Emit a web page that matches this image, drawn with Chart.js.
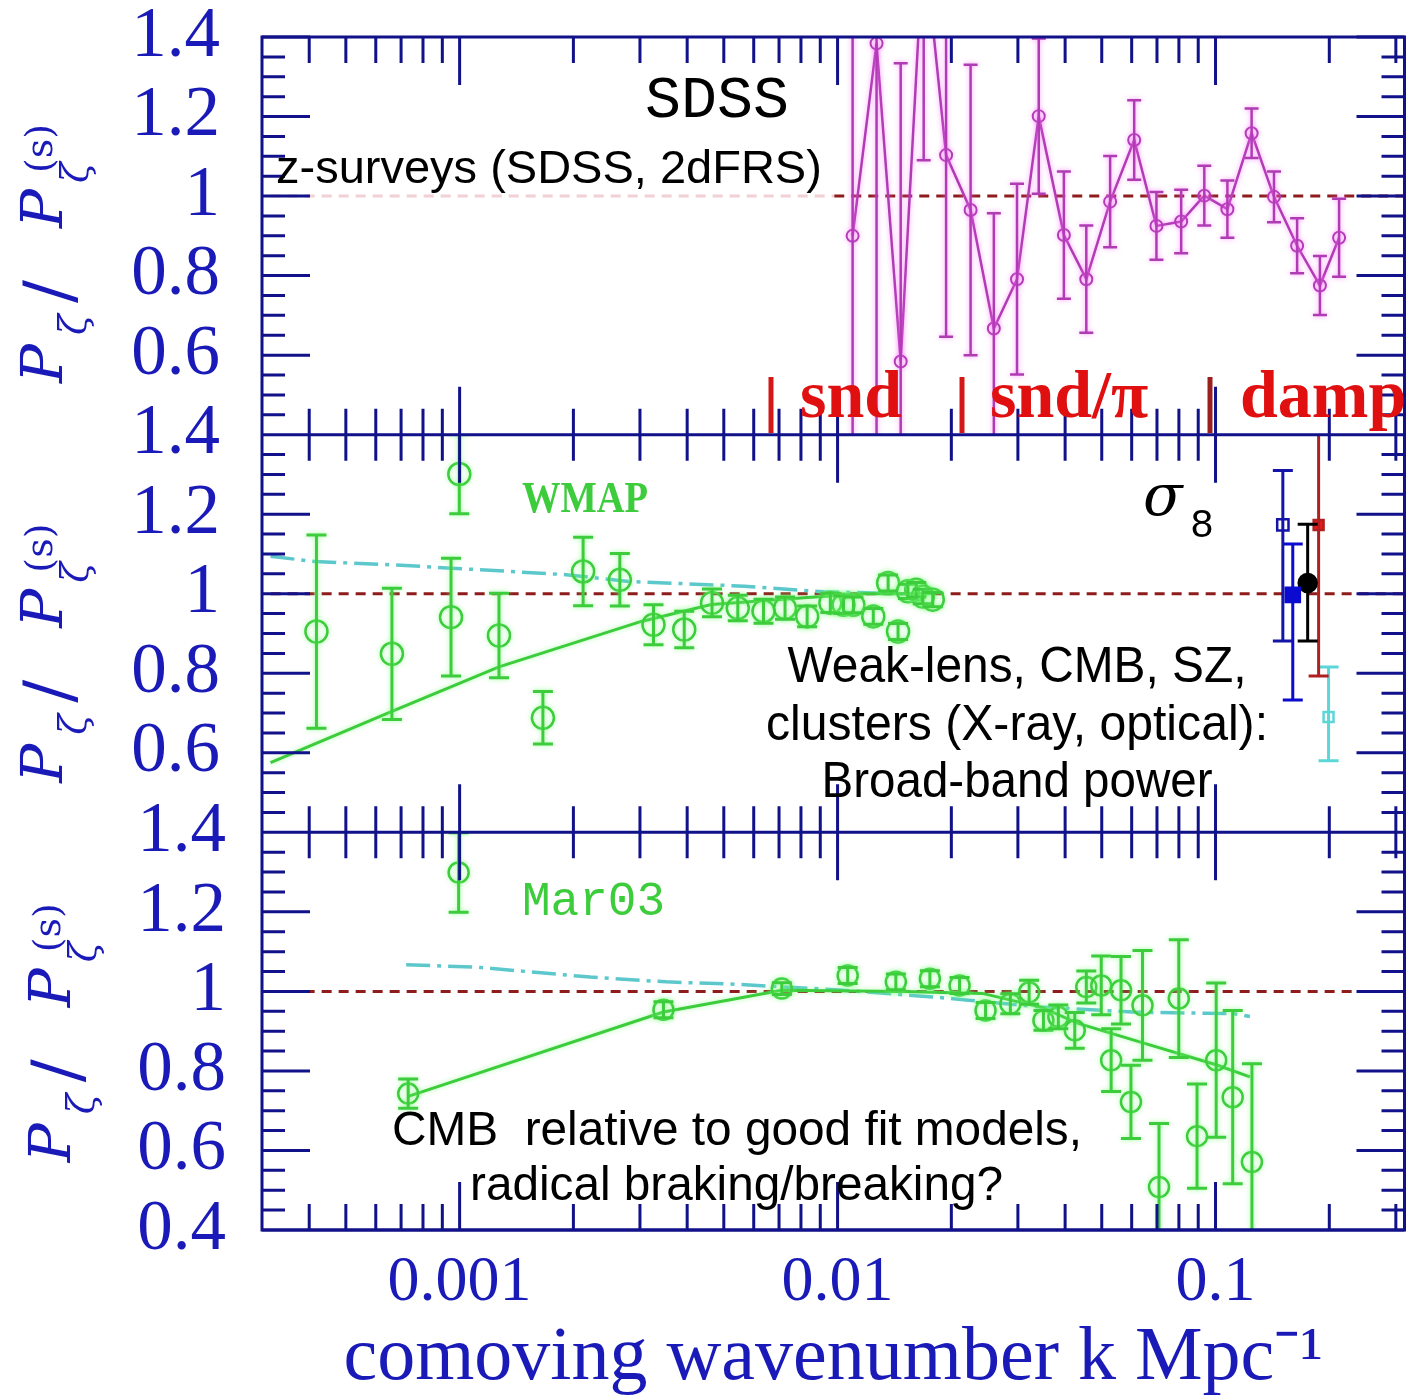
<!DOCTYPE html>
<html>
<head>
<meta charset="utf-8">
<script src="https://cdn.jsdelivr.net/npm/chart.js@4.4.1/dist/chart.umd.min.js"></script>
<style>
  html, body { margin: 0; padding: 0; background: #fff; }
  #wrap { width: 1418px; height: 1396px; position: relative; }
</style>
</head>
<body>
<div id="wrap"><canvas id="myChart"></canvas></div>
<script>
// axis range and ticks
const xMin = 0.00031623, xMax = 0.31623
const xTickVals = [0.001, 0.01, 0.1]
const xTickLabels = ['0.001', '0.01', '0.1']
const yTickVals = [0.4, 0.6, 0.8, 1, 1.2, 1.4]
const yTickLabels = ['0.4', '0.6', '0.8', '1', '1.2', '1.4']

// reference line P/P(s) = 1
const refK = [xMin, xMax]
const refV = [1, 1]
const refFaintK = [xMin, 0.0098]
const refDarkK = [0.0098, xMax]

// top panel: SDSS
const sdssK = [0.01096, 0.01268, 0.01469, 0.0169, 0.01937, 0.02249, 0.02591, 0.02984, 0.03406, 0.0397, 0.04551,
  0.05262, 0.06093, 0.06977, 0.08112, 0.09339, 0.1075, 0.1246, 0.1428, 0.1644, 0.1889, 0.2123]
const sdssV = [0.90, 1.384, 0.584, 1.65, 1.103, 0.965, 0.667, 0.791, 1.201, 0.902, 0.791,
  0.986, 1.141, 0.925, 0.936, 1.001, 0.967, 1.158, 0.998, 0.875, 0.775, 0.895]
const sdssErr = [1.0, 1.0, 0.75, 0.56, 0.457, 0.365, 0.29, 0.24, 0.195, 0.16, 0.135,
  0.115, 0.1, 0.085, 0.08, 0.075, 0.072, 0.062, 0.064, 0.069, 0.074, 0.098]

// middle panel: WMAP
const wmapK = [0.000418, 0.000662, 0.000949, 0.000998, 0.001271, 0.001661, 0.002122, 0.002654, 0.003258, 0.003929,
  0.004654, 0.005445, 0.006369, 0.007261, 0.008308, 0.00957, 0.010368, 0.011014, 0.01243, 0.013606,
  0.014454, 0.015352, 0.016144, 0.016808, 0.017858]
const wmapV = [0.905, 0.849, 0.941, 1.301, 0.895, 0.688, 1.056, 1.035, 0.922, 0.910,
  0.977, 0.964, 0.956, 0.964, 0.943, 0.977, 0.972, 0.972, 0.943, 1.027,
  0.905, 1.006, 1.010, 0.993, 0.985]
const wmapErr = [0.243, 0.165, 0.148, 0.1, 0.106, 0.066, 0.086, 0.066, 0.05, 0.046,
  0.035, 0.032, 0.03, 0.028, 0.026, 0.024, 0.022, 0.02, 0.02, 0.02,
  0.02, 0.018, 0.018, 0.018, 0.018]
const wmapModelK = [0.000316, 0.000662, 0.001271, 0.00304, 0.004636, 0.008146, 0.0117, 0.017858]
const wmapModelV = [0.575, 0.704, 0.816, 0.931, 0.973, 0.99, 1.0, 1.0]
const wmapFitK = [0.000316, 0.000414, 0.000658, 0.000926, 0.001912, 0.002803, 0.005671, 0.009191, 0.014896]
const wmapFitV = [1.094, 1.081, 1.073, 1.065, 1.048, 1.031, 1.019, 1.005, 1.0]

// middle panel: sigma8 broad-band points
const s8Names = ['weak lens', 'CMB', 'mean', 'SZ', 'clusters']
const s8K = [0.1507, 0.1601, 0.1753, 0.1874, 0.1991]
const s8V = [1.173, 0.997, 1.027, 1.173, 0.690]
const s8Up = [0.137, 0.128, 0.148, 0.25, 0.126]
const s8Down = [0.292, 0.264, 0.146, 0.38, 0.11]

// bottom panel: Mar03
const marK = [0.000731, 0.000994, 0.003462, 0.007119, 0.010636, 0.014263, 0.017549, 0.021027, 0.024635, 0.028651,
  0.032124, 0.035051, 0.038371, 0.042422, 0.04551, 0.049848, 0.052946, 0.056234, 0.05974, 0.06409,
  0.07087, 0.07995, 0.08935, 0.10041, 0.11103, 0.12483]
const marV = [0.743, 1.299, 0.954, 1.007, 1.040, 1.024, 1.032, 1.015, 0.952, 0.969,
  0.998, 0.927, 0.936, 0.902, 1.011, 1.015, 0.827, 1.003, 0.722, 0.965,
  0.508, 0.982, 0.636, 0.827, 0.734, 0.571]
const marErr = [0.037, 0.1, 0.02, 0.015, 0.02, 0.02, 0.02, 0.02, 0.02, 0.025,
  0.03, 0.025, 0.03, 0.045, 0.04, 0.074, 0.079, 0.085, 0.092, 0.138,
  0.16, 0.148, 0.131, 0.194, 0.218, 0.247]
const marModelK = [0.000731, 0.003462, 0.007119, 0.014896, 0.024147, 0.03469, 0.043111, 0.064598, 0.10083, 0.12331]
const marModelV = [0.736, 0.948, 1.003, 1.0, 0.995, 0.96, 0.92, 0.87, 0.815, 0.785]
const marFitK = [0.000722, 0.001108, 0.002215, 0.003518, 0.005339, 0.010368, 0.017858, 0.022193, 0.034065, 0.060326, 0.11194, 0.12331]
const marFitV = [1.067, 1.061, 1.036, 1.024, 1.018, 1.003, 0.986, 0.978, 0.961, 0.948, 0.944, 0.937]

// colours
const navy = '#11118a'
const tickBlue = '#1a1ab8'
const green = '#3ccc3c'
const magenta = '#b03cb4'
const cyan = '#5cc8cc'
const darkRed = '#8e1c1c'

function pts(ks, vs) {
  return ks.map((k, i) => ({x: k, y: vs[i]}))
}

function refLine(ks, axis, color) {
  return {data: pts(ks, refV), yAxisID: axis, borderColor: color, borderWidth: 3, borderDash: [10, 7],
    pointRadius: 0, order: 10}
}

const datasets = [
  refLine(refFaintK, 'y1', 'rgba(230,170,180,0.55)'),
  refLine(refDarkK, 'y1', darkRed),
  refLine(refK, 'y2', darkRed),
  refLine(refK, 'y3', darkRed),
  {label: 'SDSS', data: pts(sdssK, sdssV), yAxisID: 'y1', borderColor: magenta, borderWidth: 2.5,
    pointRadius: 6, pointBorderWidth: 2, pointBorderColor: magenta, pointBackgroundColor: 'rgba(0,0,0,0)',
    errUp: sdssErr, errDown: sdssErr, capW: 7, errWidth: 2.5, glow: 'rgba(255,110,255,0.7)', order: 2},
  {label: 'WMAP model', data: pts(wmapModelK, wmapModelV), yAxisID: 'y2', borderColor: green, borderWidth: 3,
    pointRadius: 0, order: 5, glow: 'rgba(120,255,120,0.6)'},
  {label: 'WMAP fit', data: pts(wmapFitK, wmapFitV), yAxisID: 'y2', borderColor: cyan, borderWidth: 3.5,
    borderDash: [24, 7, 4, 7], pointRadius: 0, order: 6},
  {label: 'WMAP', data: pts(wmapK, wmapV), yAxisID: 'y2', showLine: false, pointRadius: 11, pointBorderWidth: 2.5,
    pointBorderColor: green, pointBackgroundColor: 'rgba(0,0,0,0)', errUp: wmapErr, errDown: wmapErr,
    errColor: green, capW: 10, errWidth: 3, glow: 'rgba(120,255,120,0.7)', order: 1},
  {label: 'Mar03 model', data: pts(marModelK, marModelV), yAxisID: 'y3', borderColor: green, borderWidth: 3,
    pointRadius: 0, order: 5, glow: 'rgba(120,255,120,0.6)'},
  {label: 'Mar03 fit', data: pts(marFitK, marFitV), yAxisID: 'y3', borderColor: cyan, borderWidth: 3.5,
    borderDash: [24, 7, 4, 7], pointRadius: 0, order: 6},
  {label: 'Mar03', data: pts(marK, marV), yAxisID: 'y3', showLine: false, pointRadius: 10, pointBorderWidth: 2.5,
    pointBorderColor: green, pointBackgroundColor: 'rgba(0,0,0,0)', errUp: marErr, errDown: marErr,
    errColor: green, capW: 10, errWidth: 3, glow: 'rgba(120,255,120,0.7)', order: 1}
]

// sigma8 points, one dataset each
const s8Style = [
  {c: '#1414a8', style: 'rect', r: 8, fill: 'rgba(0,0,0,0)'},
  {c: '#0a0ad0', style: 'rect', r: 10, fill: '#0a0ad0'},
  {c: '#000000', style: 'circle', r: 9, fill: '#000000'},
  {c: '#b02020', style: 'rect', r: 7, fill: '#ee1818'},
  {c: '#5cd6d6', style: 'rect', r: 7, fill: 'rgba(0,0,0,0)'}
]
s8Names.forEach((name, i) => {
  const st = s8Style[i]
  datasets.push({label: name, data: [{x: s8K[i], y: s8V[i]}], yAxisID: 'y2', showLine: false,
    pointStyle: st.style, pointRadius: st.r, pointBorderWidth: 2.5, pointBorderColor: st.c,
    pointBackgroundColor: st.fill, errUp: [s8Up[i]], errDown: [s8Down[i]], errColor: st.c,
    capW: 10, errWidth: 3, order: 1})
})

// clip each dataset to its own panel and add error bars
const panelClip = {
  id: 'panelClip',
  beforeDatasetDraw(chart, args) {
    const ds = chart.data.datasets[args.index]
    const ys = chart.scales[ds.yAxisID]
    const a = chart.chartArea
    const ctx = chart.ctx
    ctx.save()
    ctx.beginPath()
    ctx.rect(a.left, ys.top, a.right - a.left, ys.bottom - ys.top)
    ctx.clip()
    if (ds.glow) {
      ctx.shadowColor = ds.glow
      ctx.shadowBlur = 5
    }
  },
  afterDatasetDraw(chart, args) {
    const ds = chart.data.datasets[args.index]
    const ctx = chart.ctx
    if (ds.errUp) {
      const xs = chart.scales.x, ys = chart.scales[ds.yAxisID]
      ctx.strokeStyle = ds.errColor || ds.borderColor
      ctx.lineWidth = ds.errWidth
      ctx.setLineDash([])
      ds.data.forEach((p, i) => {
        const x = xs.getPixelForValue(p.x)
        const yt = ys.getPixelForValue(p.y + ds.errUp[i])
        const yb = ys.getPixelForValue(p.y - ds.errDown[i])
        ctx.beginPath()
        ctx.moveTo(x, yt); ctx.lineTo(x, yb)
        ctx.moveTo(x - ds.capW, yt); ctx.lineTo(x + ds.capW, yt)
        ctx.moveTo(x - ds.capW, yb); ctx.lineTo(x + ds.capW, yb)
        ctx.stroke()
      })
    }
    ctx.restore()
  }
}

// frame with inward ticks on every panel
const frame = {
  id: 'frame',
  afterDatasetsDraw(chart) {
    const {ctx, chartArea: a, scales} = chart
    const xs = scales.x
    ctx.save()
    ctx.strokeStyle = navy
    ctx.lineWidth = 3
    ctx.setLineDash([])
    ctx.strokeRect(a.left, a.top, a.right - a.left, a.bottom - a.top)
    ctx.beginPath()
    ;['y1', 'y2', 'y3'].forEach(id => {
      const s = scales[id]
      ctx.moveTo(a.left, s.bottom); ctx.lineTo(a.right, s.bottom)
      for (let i = 0; i <= 20; i++) {
        const y = s.getPixelForValue(0.4 + i * 0.05)
        const len = i % 4 === 0 ? 48 : 23
        ctx.moveTo(a.left, y); ctx.lineTo(a.left + len, y)
        ctx.moveTo(a.right, y); ctx.lineTo(a.right - len, y)
      }
      for (let d = -4; d <= -1; d++) {
        for (let m = 1; m <= 9; m++) {
          const k = m * Math.pow(10, d)
          if (k < xMin || k > xMax) continue
          const x = xs.getPixelForValue(k)
          const len = m === 1 ? 48 : 26
          ctx.moveTo(x, s.top); ctx.lineTo(x, s.top + len)
          ctx.moveTo(x, s.bottom); ctx.lineTo(x, s.bottom - len)
        }
      }
    })
    ctx.stroke()
    ctx.restore()
  }
}

function yTitle(ctx, xb, y0) {
  ctx.save()
  ctx.translate(xb, y0)
  ctx.rotate(-Math.PI / 2)
  ctx.fillStyle = tickBlue
  ctx.textBaseline = 'alphabetic'
  ctx.font = 'italic 58px "DejaVu Serif"'
  ctx.fillText('P', 0, 0)
  ctx.font = 'italic 38px "DejaVu Serif"'
  ctx.fillText('ζ', 48, 24)
  ctx.font = '68px "DejaVu Serif"'
  ctx.fillText('/', 80, 10)
  ctx.font = 'italic 58px "DejaVu Serif"'
  ctx.fillText('P', 155, 0)
  ctx.font = 'italic 38px "DejaVu Serif"'
  ctx.fillText('ζ', 200, 26)
  ctx.font = '38px "DejaVu Serif"'
  ctx.fillText('(s)', 210, -10)
  ctx.restore()
}

function txt(ctx, s, x, y, font, color, w) {
  ctx.font = font
  ctx.fillStyle = color
  ctx.fillText(s, x, y, w)
}

// labels and annotations
const notes = {
  id: 'notes',
  afterDraw(chart) {
    const ctx = chart.ctx
    const s = chart.scales
    ctx.save()
    ctx.textBaseline = 'alphabetic'
    ctx.textAlign = 'left'
    yTitle(ctx, 62, s.y1.top + 346)
    yTitle(ctx, 62, s.y2.top + 348)
    yTitle(ctx, 70, s.y3.top + 330)

    const sans = '"Liberation Sans", Arial, sans-serif'
    txt(ctx, 'SDSS', 645, 117, '60px "Liberation Mono"', '#000', 150)
    txt(ctx, 'z-surveys (SDSS, 2dFRS)', 276, 183, '47px ' + sans, '#000', 554)

    // sound horizon / damping marks
    ctx.lineWidth = 5
    ;[[771, '#d41818'], [962, '#d41818'], [1210, '#9a2020']].forEach(b => {
      ctx.strokeStyle = b[1]
      ctx.beginPath(); ctx.moveTo(b[0], 377); ctx.lineTo(b[0], 433); ctx.stroke()
    })
    const red = 'bold 68px "Liberation Serif"'
    txt(ctx, 'snd', 800, 417, red, '#e01010', 112)
    txt(ctx, 'snd/π', 990, 417, red, '#e01010', 192)
    txt(ctx, 'damp', 1240, 417, red, '#e01010', 175)

    txt(ctx, 'WMAP', 522, 512, 'bold 44px "Liberation Serif"', green, 126)
    txt(ctx, 'σ', 1143, 515, 'italic 58px "DejaVu Serif"', '#000')
    txt(ctx, '8', 1190, 537, '40px "Liberation Mono"', '#000')

    ctx.textAlign = 'center'
    txt(ctx, 'Weak-lens, CMB, SZ,', 1017, 682, '50px ' + sans, '#000', 459)
    txt(ctx, 'clusters (X-ray, optical):', 1017, 740, '50px ' + sans, '#000', 502)
    txt(ctx, 'Broad-band power', 1017, 797, '50px ' + sans, '#000', 391)

    ctx.textAlign = 'left'
    txt(ctx, 'Mar03', 522, 915, '48px "Liberation Mono"', green, 143)
    txt(ctx, 'CMB  relative to good fit models,', 392, 1145, '48px ' + sans, '#000', 690)
    txt(ctx, 'radical braking/breaking?', 470, 1200, '48px ' + sans, '#000', 533)
    ctx.restore()
  }
}

function panelAxis(weight, hideLow, pad) {
  return {
    type: 'linear', position: 'left', stack: 'panels', stackWeight: 1, weight: weight,
    min: 0.4, max: 1.4,
    grid: {display: false, drawTicks: false},
    border: {display: false},
    afterBuildTicks: s => { s.ticks = yTickVals.map(v => ({value: v})) },
    afterFit: s => {
      s.width = 262
      s.paddingTop = 0
      s.paddingBottom = 0
    },
    ticks: {
      autoSkip: false, padding: pad, color: tickBlue,
      font: {family: 'Liberation Serif', size: 71},
      callback: v => (hideLow && v === 0.4) ? '' : yTickLabels[yTickVals.indexOf(v)]
    }
  }
}

const ctx = document.getElementById('myChart').getContext('2d')
const myChart = new Chart(ctx, {
  type: 'line',
  data: {datasets: datasets},
  options: {
    responsive: true,
    maintainAspectRatio: false,
    animation: false,
    layout: {padding: {left: 0, top: 37, right: 12, bottom: 0}},
    plugins: {legend: {display: false}, tooltip: {enabled: false}},
    elements: {line: {tension: 0}},
    scales: {
      x: {
        type: 'logarithmic', position: 'bottom', min: xMin, max: xMax,
        grid: {display: false, drawTicks: false},
        border: {display: false},
        afterBuildTicks: s => { s.ticks = xTickVals.map(v => ({value: v})) },
        afterFit: s => {
          s.height = 166
          s.paddingLeft = 0
          s.paddingRight = 0
        },
        ticks: {
          autoSkip: false, maxRotation: 0, padding: 15, color: tickBlue,
          font: {family: 'Liberation Serif', size: 64},
          callback: v => xTickLabels[xTickVals.indexOf(v)]
        },
        title: {
          display: true, text: 'comoving wavenumber k Mpc⁻¹', color: tickBlue,
          font: {family: 'Liberation Serif', size: 76}, padding: {top: 0, bottom: -9}
        }
      },
      y1: panelAxis(3, true, 42),
      y2: panelAxis(2, true, 42),
      y3: panelAxis(1, false, 36)
    }
  },
  plugins: [panelClip, frame, notes]
})
</script>
</body>
</html>
